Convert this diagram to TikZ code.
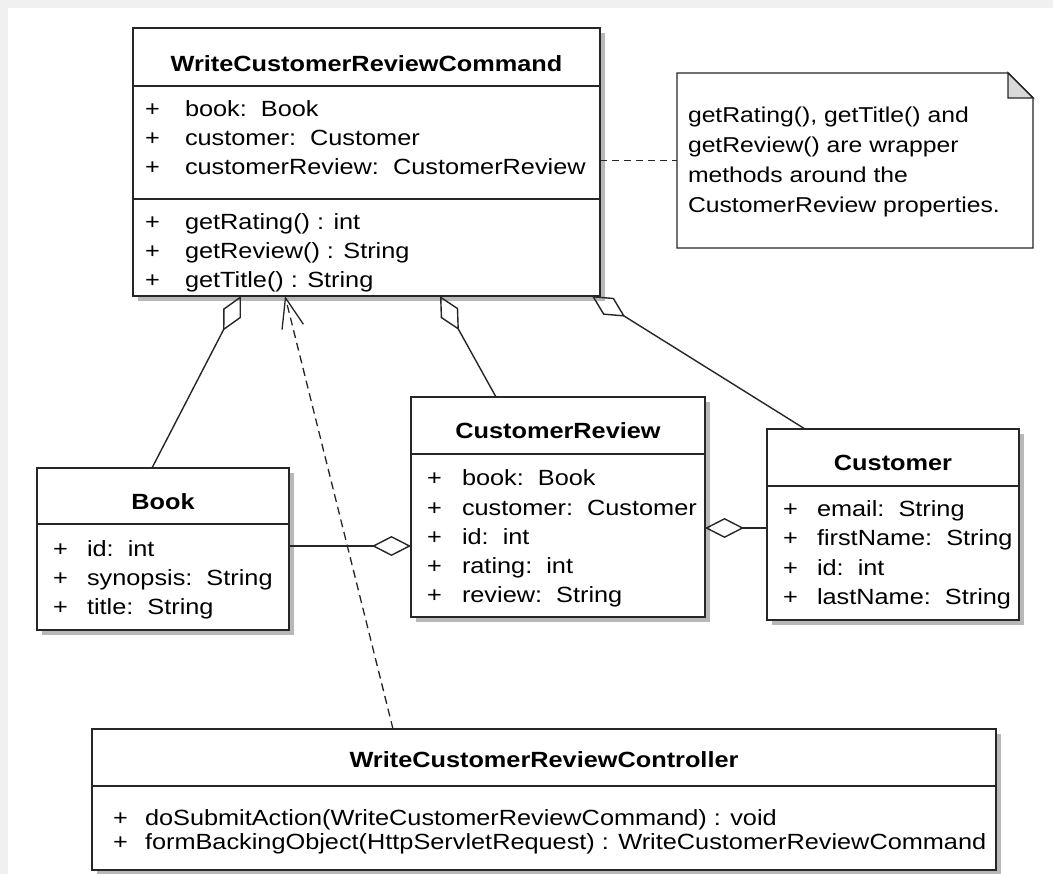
\documentclass[tikz,border=0pt]{standalone}
\usepackage{fontspec}
\setmainfont[FakeStretch=1.15]{Liberation Sans}
\usetikzlibrary{arrows.meta,shadows,calc}
\begin{document}
\begin{tikzpicture}[x=1pt,y=-1pt,
  every node/.style={inner sep=0pt, outer sep=0pt},
  cls/.style={draw=black!85, line width=1.4pt, fill=white, anchor=north west,
    drop shadow={shadow xshift=5pt, shadow yshift=-5pt, fill=black!28, opacity=1}},
  sepline/.style={draw=black!85, line width=1.4pt},
  txt/.style={anchor=base west, font=\fontsize{22}{26}\selectfont},
  ttl/.style={anchor=base, font=\fontsize{22}{26}\selectfont\bfseries},
  notetxt/.style={anchor=base west, font=\fontsize{21.5}{26}\selectfont},
  agg/.style={draw=black!85, line width=1.4pt, -{Diamond[open, length=39pt, width=20pt]}},
  depline/.style={draw=black!85, line width=1.3pt, dash pattern=on 8pt off 5pt,
    -{Straight Barb[length=30pt, width=22pt]}},
  noteline/.style={draw=black!85, line width=1.3pt, dash pattern=on 7pt off 5pt}
]
\useasboundingbox (0,0) rectangle (1053,874);
\fill[black!6] (0,0) rectangle (1053,874);
\fill[white] (8,8) rectangle (1053,874);

% ---------- WriteCustomerReviewCommand ----------
\node[cls, minimum width=467pt, minimum height=268pt] (wcrc) at (133,28) {};
\draw[sepline] ($(wcrc.north west)+(0,58)$) -- ($(wcrc.north east)+(0,58)$);
\draw[sepline] ($(wcrc.north west)+(0,171)$) -- ($(wcrc.north east)+(0,171)$);
\node[ttl] (wcrcT) at (366.5,72) {WriteCustomerReviewCommand};
\node[txt] (wp1) at (145,117) {+};
\node[txt] (wa1) at (185,117) {book:\ \ Book};
\node[txt] (wp2) at (145,146) {+};
\node[txt] (wa2) at (185,146) {customer:\ \ Customer};
\node[txt] (wp3) at (145,175) {+};
\node[txt] (wa3) at (185,175) {customerReview:\ \ CustomerReview};
\node[txt] (wp4) at (145,230) {+};
\node[txt] (wm1) at (185,230) {getRating() : int};
\node[txt] (wp5) at (145,259) {+};
\node[txt] (wm2) at (185,259) {getReview() : String};
\node[txt] (wp6) at (145,288) {+};
\node[txt] (wm3) at (185,288) {getTitle() : String};

% ---------- Note ----------
\node[minimum width=356pt, minimum height=175pt, anchor=north west] (note) at (677,73) {};
\draw[draw=black!85, line width=1.4pt, fill=white] (note.north west) -- ($(note.north east)+(-25,0)$)
  -- ($(note.north east)+(0,25)$) -- (note.south east) -- (note.south west) -- cycle;
\draw[draw=black!85, line width=1.4pt, fill=black!15] ($(note.north east)+(-25,0)$)
  -- ($(note.north east)+(-25,25)$) -- ($(note.north east)+(0,25)$) -- cycle;
\node[notetxt] (n1) at (688,123) {getRating(), getTitle() and};
\node[notetxt] (n2) at (688,153) {getReview() are wrapper};
\node[notetxt] (n3) at (688,183) {methods around the};
\node[notetxt] (n4) at (688,213) {CustomerReview properties.};

% ---------- Book ----------
\node[cls, minimum width=252pt, minimum height=162pt] (book) at (37,468) {};
\draw[sepline] ($(book.north west)+(0,56)$) -- ($(book.north east)+(0,56)$);
\node[ttl] (bookT) at (163,510) {Book};
\node[txt] (bp1) at (53,556) {+};
\node[txt] (ba1) at (87,556) {id:\ \ int};
\node[txt] (bp2) at (53,585) {+};
\node[txt] (ba2) at (87,585) {synopsis:\ \ String};
\node[txt] (bp3) at (53,614) {+};
\node[txt] (ba3) at (87,614) {title:\ \ String};

% ---------- CustomerReview ----------
\node[cls, minimum width=294pt, minimum height=220pt] (cr) at (411,397) {};
\draw[sepline] ($(cr.north west)+(0,57)$) -- ($(cr.north east)+(0,57)$);
\node[ttl] (crT) at (558,439) {CustomerReview};
\node[txt] (cp1) at (427,486) {+};
\node[txt] (ca1) at (462,486) {book:\ \ Book};
\node[txt] (cp2) at (427,515) {+};
\node[txt] (ca2) at (462,515) {customer:\ \ Customer};
\node[txt] (cp3) at (427,544) {+};
\node[txt] (ca3) at (462,544) {id:\ \ int};
\node[txt] (cp4) at (427,573) {+};
\node[txt] (ca4) at (462,573) {rating:\ \ int};
\node[txt] (cp5) at (427,602) {+};
\node[txt] (ca5) at (462,602) {review:\ \ String};

% ---------- Customer ----------
\node[cls, minimum width=252pt, minimum height=191pt] (cust) at (767,429) {};
\draw[sepline] ($(cust.north west)+(0,57)$) -- ($(cust.north east)+(0,57)$);
\node[ttl] (custT) at (893,471) {Customer};
\node[txt] (up1) at (783,517) {+};
\node[txt] (ua1) at (817,517) {email:\ \ String};
\node[txt] (up2) at (783,546) {+};
\node[txt] (ua2) at (817,546) {firstName:\ \ String};
\node[txt] (up3) at (783,575) {+};
\node[txt] (ua3) at (817,575) {id:\ \ int};
\node[txt] (up4) at (783,604) {+};
\node[txt] (ua4) at (817,604) {lastName:\ \ String};

% ---------- WriteCustomerReviewController ----------
\node[cls, minimum width=904pt, minimum height=141pt] (ctrl) at (92,729) {};
\draw[sepline] ($(ctrl.north west)+(0,57)$) -- ($(ctrl.north east)+(0,57)$);
\node[ttl] (ctrlT) at (544,767) {WriteCustomerReviewController};
\node[txt] (kp1) at (113,825) {+};
\node[txt] (km1) at (145,825) {doSubmitAction(WriteCustomerReviewCommand) : void};
\node[txt] (kp2) at (113,849) {+};
\node[txt] (km2) at (145,849) {formBackingObject(HttpServletRequest) : WriteCustomerReviewCommand};

% ---------- Connectors ----------
\draw[agg] ($(book.north west)+(115,0)$) -- ($(wcrc.south west)+(108,0)$);
\draw[agg] ($(cr.north west)+(85,0)$) -- ($(wcrc.south west)+(307,0)$);
\draw[agg] ($(cust.north west)+(38,0)$) -- ($(wcrc.south west)+(459,0)$);
\draw[agg] ($(book.north east)+(0,78)$) -- ($(cr.north west)+(0,149)$);
\draw[agg] ($(cust.north west)+(0,99)$) -- ($(cr.north east)+(0,131)$);
\draw[depline] ($(ctrl.north west)+(301,0)$) -- ($(wcrc.south west)+(152,0)$);
\draw[noteline] (wcrc.east |- note.west) -- (note.west);
\end{tikzpicture}
\end{document}
